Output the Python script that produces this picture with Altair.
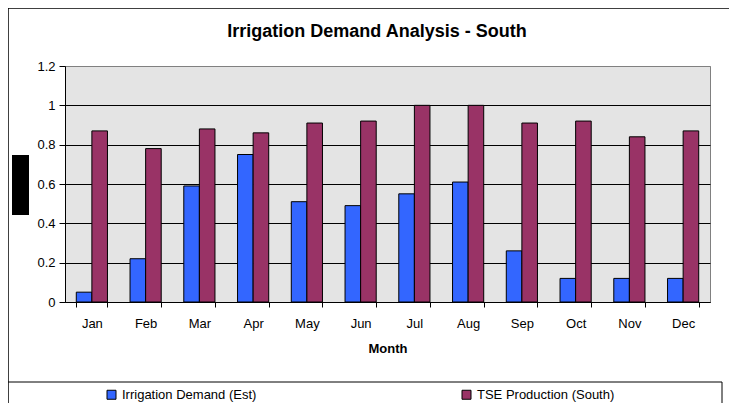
import altair as alt
import pandas as pd

months = ["Jan", "Feb", "Mar", "Apr", "May", "Jun", "Jul", "Aug", "Sep", "Oct", "Nov", "Dec"]
series_names = ["Irrigation Demand (Est)", "TSE Production (South)"]
irrigation = [0.05, 0.22, 0.59, 0.75, 0.51, 0.49, 0.55, 0.61, 0.26, 0.12, 0.12, 0.12]
tse = [0.87, 0.78, 0.88, 0.86, 0.91, 0.92, 1.00, 1.00, 0.91, 0.92, 0.84, 0.87]
y_ticks = [0, 0.2, 0.4, 0.6, 0.8, 1.0, 1.2]
colors = ["#3366FF", "#993366"]
chart_title = "Irrigation Demand Analysis - South"

rows = []
for m, a, b in zip(months, irrigation, tse):
    rows.append({"Month": m, "Series": series_names[0], "Value": a})
    rows.append({"Month": m, "Series": series_names[1], "Value": b})
df = pd.DataFrame(rows)

FONT = "Liberation Sans"

bars = alt.Chart(df).mark_bar(stroke="black", strokeWidth=1).encode(
    x=alt.X(
        "Month:N",
        sort=months,
        scale=alt.Scale(paddingInner=0.42, paddingOuter=0.21),
        axis=alt.Axis(
            title="Month",
            labelAngle=0,
            tickBand="extent",
            tickSize=5,
            labelPadding=10,
            titlePadding=12,
            grid=False,
            domainColor="black",
            tickColor="black",
        ),
    ),
    xOffset=alt.XOffset("Series:N", sort=series_names, scale=alt.Scale(paddingInner=0, paddingOuter=0)),
    y=alt.Y(
        "Value:Q",
        scale=alt.Scale(domain=[0, 1.2], nice=False),
        axis=alt.Axis(
            title=None,
            values=y_ticks,
            format=".2~f",
            tickSize=6,
            labelPadding=4,
            domainColor="black",
            tickColor="black",
            gridColor={"condition": {"test": "datum.value >= 1.19", "value": "#808080"}, "value": "black"},
            gridOpacity=1,
        ),
    ),
    color=alt.Color(
        "Series:N",
        sort=series_names,
        scale=alt.Scale(domain=series_names, range=colors),
        legend=alt.Legend(
            title=None,
            orient="none",
            direction="horizontal",
            legendX=40,
            legendY=322,
            symbolType="square",
            symbolSize=81,
            symbolStrokeColor="black",
            symbolStrokeWidth=1,
            symbolOpacity=1,
            labelFont=FONT,
            labelFontSize=13,
            labelColor="black",
            labelOffset=4,
            columnPadding=203,
            padding=0,
        ),
    ),
)

deco = alt.Data(values=[{"k": 1}])

top_line = alt.Chart(deco).mark_rule(stroke="black", strokeWidth=1.5, clip=False).encode(
    x=alt.value(-57), x2=alt.value(700), y=alt.value(-58)
)
left_line = alt.Chart(deco).mark_rule(stroke="black", strokeWidth=1.5, clip=False).encode(
    x=alt.value(-57), y=alt.value(-58), y2=alt.value(400)
)
legend_top = alt.Chart(deco).mark_rule(stroke="black", strokeWidth=1, clip=False).encode(
    x=alt.value(-57), x2=alt.value(657), y=alt.value(316)
)
legend_right = alt.Chart(deco).mark_rule(stroke="black", strokeWidth=1, clip=False).encode(
    x=alt.value(657), y=alt.value(316), y2=alt.value(400)
)
redact = alt.Chart(deco).mark_rect(fill="black", clip=False).encode(
    x=alt.value(-53), x2=alt.value(-36), y=alt.value(89), y2=alt.value(149)
)
title_text = alt.Chart(alt.Data(values=[{"t": chart_title}])).mark_text(
    font=FONT, fontSize=18, fontWeight="bold", color="black", align="center", baseline="middle", clip=False
).encode(text="t:N", x=alt.value(312), y=alt.value(-34))

chart = alt.layer(top_line, left_line, legend_top, legend_right, redact, title_text, bars).properties(
    width=645,
    height=236,
    padding={"left": 57, "top": 58, "right": 19, "bottom": 103},
    autosize=alt.AutoSizeParams(type="none"),
    background="white",
).configure_view(
    fill="#e4e4e4", stroke="#808080", strokeWidth=1
).configure_axis(
    labelFont=FONT,
    labelFontSize=13,
    labelColor="black",
    titleFont=FONT,
    titleFontSize=13,
    titleFontWeight="bold",
    titleColor="black",
    gridWidth=1,
)

chart.save("out.html", embed_options={"renderer": "svg", "actions": False})
